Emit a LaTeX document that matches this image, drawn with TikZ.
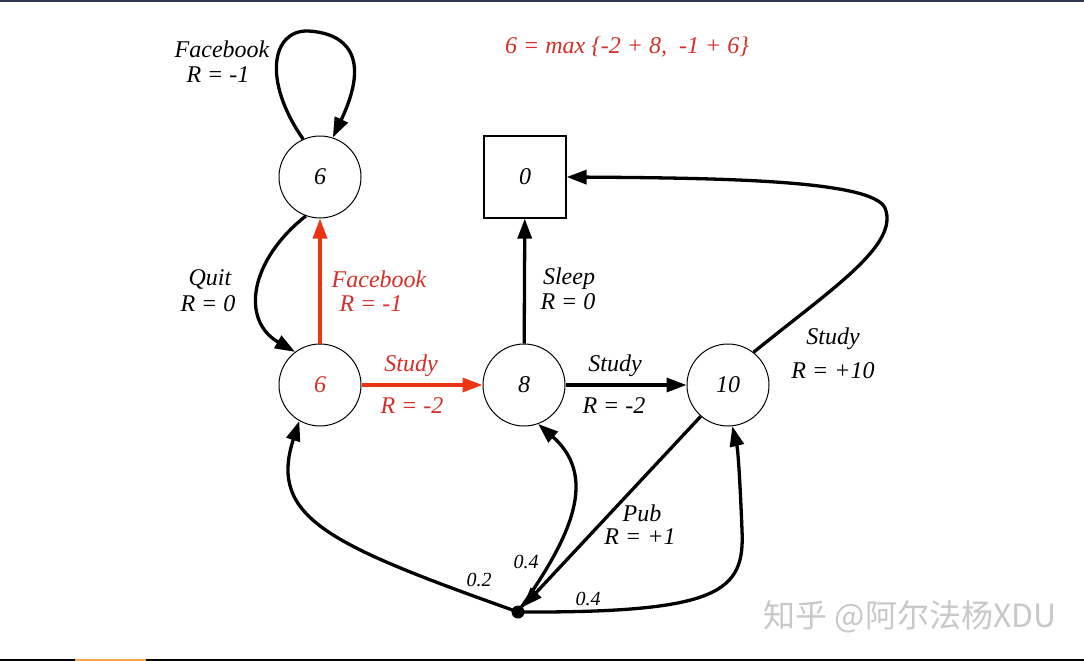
\documentclass[tikz,border=0pt]{standalone}
\usepackage{fontspec}
\setmainfont{Liberation Serif}
\newfontfamily\cjk{Noto Sans CJK SC}
\usetikzlibrary{arrows.meta}
\definecolor{redline}{RGB}{236,52,20}
\definecolor{redtext}{RGB}{214,46,40}
\definecolor{topbar}{RGB}{50,55,85}
\definecolor{wm}{RGB}{200,200,200}
\begin{document}
\begin{tikzpicture}[x=1pt,y=-1pt,
  state/.style={circle,draw,line width=1pt,minimum size=82pt,inner sep=0pt,font=\fontsize{24}{26}\selectfont\itshape},
  term/.style={rectangle,draw,line width=1.2pt,minimum size=82pt,inner sep=0pt,font=\fontsize{24}{26}\selectfont\itshape},
  edge/.style={line width=3.3pt,-{Triangle[length=20pt,width=14pt]}},
  rededge/.style={edge,draw=redline},
  lbl/.style={font=\fontsize{24}{26}\selectfont\itshape,inner sep=0pt},
  small/.style={font=\fontsize{20}{22}\selectfont\itshape,inner sep=0pt},
  redlbl/.style={lbl,text=redtext}]
\useasboundingbox (0,0) rectangle (1084,661);
\fill[white] (0,0) rectangle (1084,661);
\fill[topbar] (0,0) rectangle (1084,2.5);
\fill[black] (0,658.5) rectangle (1084,661);
\fill[orange!70] (75,658.5) rectangle (146,661);

\node[state] (A) at (320,177) {6};
\node[state,text=redtext] (B) at (320,385) {6};
\node[state] (C) at (524,385) {8};
\node[state] (D) at (728,385) {10};
\node[term] (S) at (525,177) {0};
\node[circle,fill,inner sep=0pt,minimum size=13pt] (P) at (518,612) {};

% self loop
\draw[edge] (A.114) .. controls (262,80) and (272,30) .. (308,31)
  .. controls (345,33) and (372,55) .. (A.72);
% quit
\draw[edge] (A.250) .. controls (250,260) and (240,320) .. (B.127);
% red edges
\draw[rededge] (B) -- (A);
\draw[rededge] (B) -- (C);
% sleep
\draw[edge] (C) -- (S);
% study C->D
\draw[edge] (C) -- (D);
% study D->square
\draw[edge] (D.52) .. controls (830,290) and (900,245) .. (885,208)
  .. controls (872,180) and (720,178) .. (S.east);
% pub
\draw[edge] (D.229) -- (P);
% chance edges
\draw[edge] (P.center) .. controls (330,545) and (268,518) .. (B.240);
\draw[edge] (P.center) .. controls (565,545) and (602,480) .. (C.290);
\draw[edge] (P.center) .. controls (720,613) and (745,592) .. (742,530)
  .. controls (740,480) and (738,450) .. (D.276);

% labels
\node[lbl] (l1) at (222,49) {Facebook};
\node[lbl] (l2) at (218,75) {R = -1};
\node[lbl,text=redtext] (eq) at (627,47) {6 = max \{-2 + 8,\ \ -1 + 6\}};
\node[lbl] (l3) at (210,279) {Quit};
\node[lbl] (l4) at (208,304) {R = 0};
\node[redlbl] (l5) at (379,279) {Facebook};
\node[redlbl] (l6) at (371,304) {R = -1};
\node[lbl] (l7) at (569,279) {Sleep};
\node[lbl] (l8) at (568,302) {R = 0};
\node[redlbl] (l9) at (411,366) {Study};
\node[redlbl] (l10) at (412,406) {R = -2};
\node[lbl] (l11) at (615,366) {Study};
\node[lbl] (l12) at (614,406) {R = -2};
\node[lbl] (l13) at (833,339) {Study};
\node[lbl] (l14) at (833,371) {R = +10};
\node[lbl] (l15) at (642,513) {Pub};
\node[lbl] (l16) at (640,537) {R = +1};
\node[small] (p1) at (479,580) {0.2};
\node[small] (p2) at (526,562) {0.4};
\node[small] (p3) at (588,599) {0.4};
\node[font=\cjk\fontsize{32}{34}\selectfont,text=wm,inner sep=0pt] (wm) at (910,617) {知乎 @阿尔法杨XDU};
\end{tikzpicture}
\end{document}
